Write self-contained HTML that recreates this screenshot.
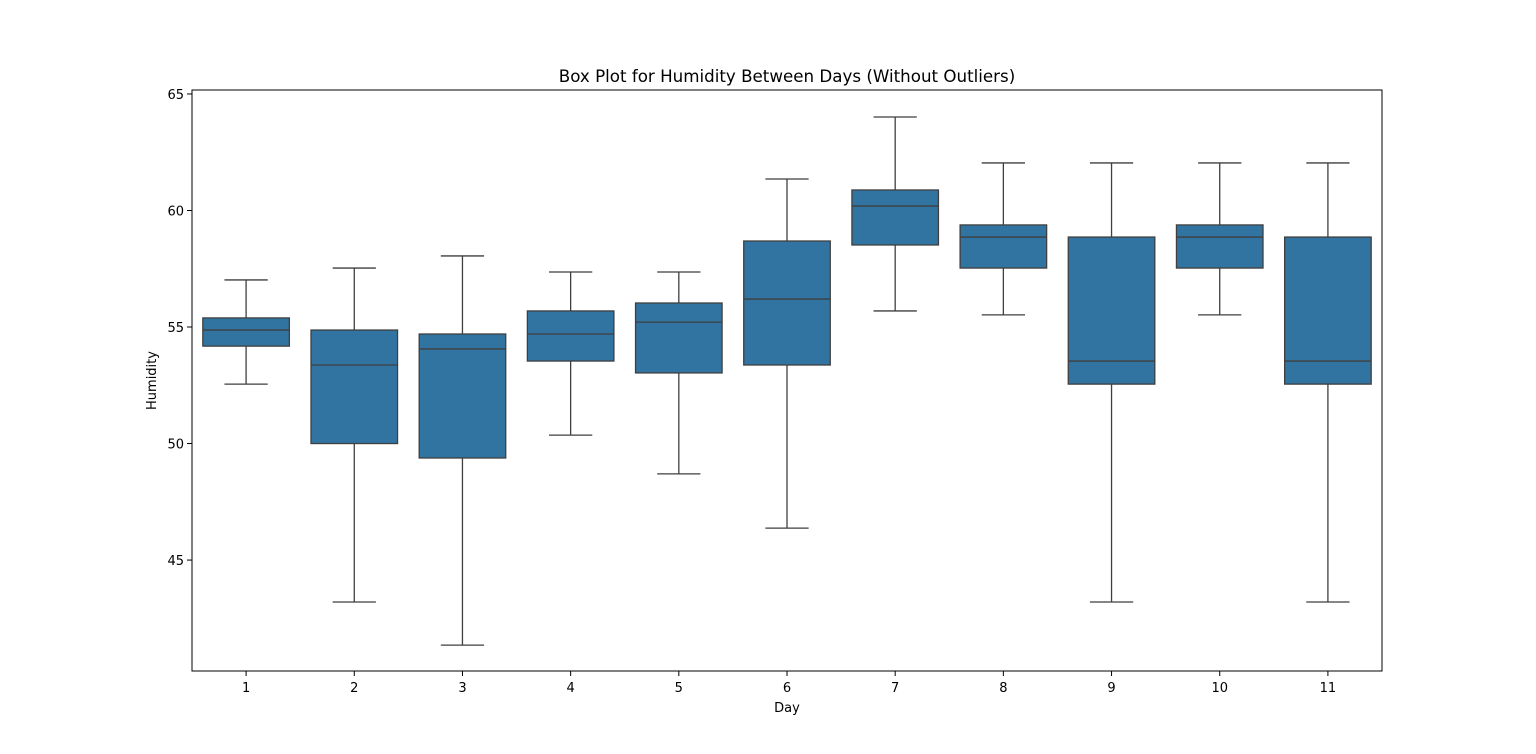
<!DOCTYPE html>
<html><head><meta charset="utf-8"><style>
html,body{margin:0;padding:0;background:#fff;}
svg{display:block;font-family:"DejaVu Sans","Liberation Sans",sans-serif;}
</style></head><body>
<svg id="chart" width="1536" height="754"></svg>
<script>
const days = ["1","2","3","4","5","6","7","8","9","10","11"];
const whiskerLow = [52.55,43.2,41.35,50.36,48.7,46.37,55.69,55.52,43.2,55.52,43.2];
const q1Values = [54.18,50.0,49.38,53.54,53.03,53.37,58.52,57.53,52.55,57.53,52.55];
const medians = [54.87,53.37,54.06,54.7,55.21,56.2,60.19,58.86,53.54,58.86,53.54];
const q3Values = [55.39,54.87,54.7,55.69,56.03,58.69,60.88,59.38,58.86,59.38,58.86];
const whiskerHigh = [57.02,57.53,58.05,57.36,57.36,61.35,64.01,62.04,62.04,62.04,62.04];
const yTicks = [45,50,55,60,65];

const NS="http://www.w3.org/2000/svg";
const svg=document.getElementById('chart');
const L=192,R=1382,T=90,B=671;
const yMin=40.24,yMax=65.17;
const y=v=>B-(v-yMin)/(yMax-yMin)*(B-T);
const step=(R-L)/days.length;
const x=i=>L+step*(i+0.5);
const bw=step*0.8;
function mk(tag,attrs,parent){const e=document.createElementNS(NS,tag);for(const k in attrs)e.setAttribute(k,attrs[k]);(parent||svg).appendChild(e);return e;}

const title=mk('text',{x:(L+R)/2,y:82,'text-anchor':'middle','font-size':16.7,fill:'#000'});


title.textContent='Box Plot for Humidity Between Days (Without Outliers)';

days.forEach((d,i)=>{
  const g=mk('g',{});
  
  
  const cx=x(i),st={stroke:'#3f3f3f','stroke-width':1.3,fill:'none'};
  mk('line',Object.assign({x1:cx,x2:cx,y1:y(whiskerLow[i]),y2:y(q1Values[i])},st),g);
  mk('line',Object.assign({x1:cx,x2:cx,y1:y(q3Values[i]),y2:y(whiskerHigh[i])},st),g);
  mk('line',Object.assign({x1:cx-bw/4,x2:cx+bw/4,y1:y(whiskerLow[i]),y2:y(whiskerLow[i])},st),g);
  mk('line',Object.assign({x1:cx-bw/4,x2:cx+bw/4,y1:y(whiskerHigh[i]),y2:y(whiskerHigh[i])},st),g);
  mk('rect',{x:cx-bw/2,y:y(q3Values[i]),width:bw,height:y(q1Values[i])-y(q3Values[i]),fill:'#3274a1',stroke:'#3f3f3f','stroke-width':1.3},g);
  mk('line',Object.assign({x1:cx-bw/2,x2:cx+bw/2,y1:y(medians[i]),y2:y(medians[i])},st),g);
  mk('line',{x1:cx,x2:cx,y1:B,y2:B+5,stroke:'#000','stroke-width':1});
  const t=mk('text',{x:cx,y:B+21,'text-anchor':'middle','font-size':13,fill:'#000'});
  
  
  t.textContent=d;
});
yTicks.forEach(v=>{
  mk('line',{x1:L-5,x2:L,y1:y(v),y2:y(v),stroke:'#000','stroke-width':1});
  const t=mk('text',{x:L-8,y:y(v)+5,'text-anchor':'end','font-size':13,fill:'#000'});
  
  
  t.textContent=v;
});
const frame=mk('rect',{x:L,y:T,width:R-L,height:B-T,fill:'none',stroke:'#000','stroke-width':1});


const xl=mk('text',{x:(L+R)/2,y:712,'text-anchor':'middle','font-size':13,fill:'#000'});


xl.textContent='Day';
const yl=mk('text',{x:156,y:(T+B)/2,'text-anchor':'middle','font-size':13,fill:'#000',transform:'rotate(-90 156 '+((T+B)/2)+')'});


yl.textContent='Humidity';
</script>
</body></html>
